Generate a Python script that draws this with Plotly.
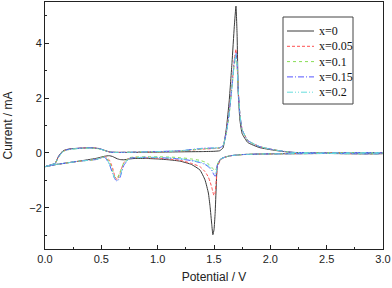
import plotly.graph_objects as go

# Potential grids (V): anodic (upper) branch and cathodic (lower) branch
V_up = [0.00, 0.05, 0.09, 0.12, 0.16, 0.22, 0.30, 0.40, 0.48, 0.53, 0.58, 0.65, 0.80, 1.00, 1.20, 1.40,
        1.50, 1.55, 1.58, 1.61, 1.635, 1.66, 1.68, 1.695, 1.705, 1.715, 1.73, 1.75, 1.80, 1.90, 2.00,
        2.10, 2.20, 2.50, 3.00]
V_dn = [3.00, 2.50, 2.10, 1.90, 1.75, 1.65, 1.60, 1.56, 1.53, 1.52, 1.51, 1.50, 1.49, 1.48, 1.465,
        1.45, 1.42, 1.375, 1.30, 1.20, 1.10, 1.00, 0.90, 0.80, 0.75, 0.70, 0.665, 0.64, 0.62, 0.60,
        0.57, 0.53, 0.45, 0.30, 0.20, 0.10, 0.00]

# Currents (mA)
I_up_x0 = [-0.50, -0.44, -0.38, -0.12, 0.08, 0.15, 0.17, 0.19, 0.16, 0.09, 0.03, 0.02, 0.02, 0.03, 0.04, 0.05,
           0.06, 0.08, 0.18, 0.90, 1.90, 3.30, 4.60, 5.35, 4.30, 2.20, 1.20, 0.70, 0.38, 0.20, 0.12,
           0.06, 0.02, 0.00, 0.00]
I_up_x005 = [-0.50, -0.44, -0.38, -0.14, 0.06, 0.14, 0.17, 0.19, 0.16, 0.09, 0.03, 0.02, 0.03, 0.04, 0.07, 0.14,
             0.16, 0.18, 0.26, 0.80, 1.50, 2.50, 3.40, 3.78, 3.30, 2.30, 1.40, 0.85, 0.45, 0.24, 0.14,
             0.07, 0.02, 0.00, 0.00]
I_up_x01 = [-0.50, -0.44, -0.38, -0.16, 0.05, 0.13, 0.16, 0.18, 0.15, 0.09, 0.03, 0.02, 0.03, 0.04, 0.07, 0.15,
            0.17, 0.19, 0.26, 0.70, 1.40, 2.40, 3.20, 3.50, 3.20, 2.30, 1.40, 0.85, 0.45, 0.24, 0.14,
            0.07, 0.02, 0.00, 0.00]
I_up_x015 = [-0.50, -0.44, -0.38, -0.14, 0.06, 0.14, 0.17, 0.19, 0.16, 0.09, 0.03, 0.02, 0.03, 0.05, 0.08, 0.17,
             0.18, 0.19, 0.26, 0.75, 1.45, 2.45, 3.30, 3.65, 3.25, 2.30, 1.40, 0.85, 0.45, 0.24, 0.14,
             0.07, 0.02, 0.00, 0.00]
I_up_x02 = [-0.50, -0.44, -0.38, -0.15, 0.05, 0.13, 0.16, 0.18, 0.15, 0.09, 0.03, 0.02, 0.03, 0.05, 0.08, 0.16,
            0.18, 0.19, 0.26, 0.72, 1.42, 2.40, 3.25, 3.60, 3.25, 2.30, 1.40, 0.85, 0.45, 0.24, 0.14,
            0.07, 0.02, 0.00, 0.00]

I_dn_x0 = [-0.02, -0.02, -0.03, -0.04, -0.06, -0.10, -0.15, -0.22, -0.45, -1.20, -2.20, -2.80, -2.98, -2.60, -1.95,
           -1.46, -0.98, -0.62, -0.42, -0.30, -0.25, -0.22, -0.20, -0.20, -0.22, -0.25, -0.24, -0.21, -0.17, -0.13,
           -0.10, -0.12, -0.20, -0.30, -0.36, -0.42, -0.50]
I_dn_x005 = [-0.02, -0.02, -0.03, -0.04, -0.06, -0.10, -0.15, -0.25, -0.50, -1.00, -1.45, -1.55, -1.42, -1.25, -1.05,
             -0.88, -0.68, -0.50, -0.38, -0.27, -0.22, -0.19, -0.17, -0.16, -0.18, -0.35, -0.75, -0.98, -0.85, -0.55,
             -0.25, -0.13, -0.24, -0.30, -0.36, -0.42, -0.50]
I_dn_x01 = [-0.02, -0.02, -0.03, -0.04, -0.06, -0.10, -0.15, -0.22, -0.40, -0.58, -0.65, -0.62, -0.57, -0.52, -0.46,
            -0.40, -0.33, -0.27, -0.22, -0.17, -0.15, -0.14, -0.14, -0.15, -0.17, -0.35, -0.70, -0.92, -0.88, -0.65,
            -0.32, -0.14, -0.24, -0.30, -0.36, -0.42, -0.50]
I_dn_x015 = [-0.02, -0.02, -0.03, -0.04, -0.06, -0.10, -0.15, -0.22, -0.45, -0.75, -0.85, -0.80, -0.72, -0.65, -0.57,
             -0.50, -0.42, -0.35, -0.28, -0.22, -0.19, -0.17, -0.16, -0.17, -0.20, -0.45, -0.90, -1.03, -0.95, -0.75,
             -0.40, -0.16, -0.24, -0.30, -0.36, -0.42, -0.50]
I_dn_x02 = [-0.02, -0.02, -0.03, -0.04, -0.06, -0.10, -0.15, -0.22, -0.43, -0.70, -0.78, -0.74, -0.67, -0.60, -0.53,
            -0.47, -0.40, -0.33, -0.27, -0.21, -0.18, -0.16, -0.16, -0.17, -0.19, -0.42, -0.85, -1.00, -0.93, -0.72,
            -0.38, -0.15, -0.24, -0.30, -0.36, -0.42, -0.50]

labels = ["x=0", "x=0.05", "x=0.1", "x=0.15", "x=0.2"]
up_sets = [I_up_x0, I_up_x005, I_up_x01, I_up_x015, I_up_x02]
dn_sets = [I_dn_x0, I_dn_x005, I_dn_x01, I_dn_x015, I_dn_x02]
colors = ["#3a3a3a", "#ff5050", "#88dd55", "#5555ff", "#66dddd"]
dashes = ["solid", "3px,2px", "dot", "6px,2px,1px,2px", "6px,2px,1px,2px,1px,2px"]

# Layout geometry (pixels)
W, H = 392, 288
ML, MR, MT, MB = 45, 9, 2, 39
PW, PH = W - ML - MR, H - MT - MB


def px_x(px):
    return (px - ML) / PW


def px_y(py):
    return (H - MB - py) / PH


fig = go.Figure()
for lab, iu, idn, c, d in zip(labels, up_sets, dn_sets, colors, dashes):
    fig.add_trace(go.Scatter(
        x=V_up + V_dn, y=iu + idn, mode="lines", name=lab, showlegend=False,
        line=dict(color=c, width=1, dash=d, shape="spline", smoothing=0.4),
    ))

# Manual legend (box, line samples and labels)
shapes = [dict(type="rect", xref="paper", yref="paper",
               x0=px_x(283), x1=px_x(353), y0=px_y(104), y1=px_y(17),
               line=dict(color="#444", width=1), fillcolor="white", layer="above")]
annotations = []
for i, (lab, c, d) in enumerate(zip(labels, colors, dashes)):
    yc = 31 + i * 15.3
    shapes.append(dict(type="line", xref="paper", yref="paper",
                       x0=px_x(287), x1=px_x(314), y0=px_y(yc), y1=px_y(yc),
                       line=dict(color=c, width=1, dash=d), layer="above"))
    annotations.append(dict(xref="paper", yref="paper", x=px_x(317), y=px_y(yc),
                            xanchor="left", yanchor="middle", showarrow=False, text=lab,
                            font=dict(family="Liberation Serif, Times New Roman, serif", size=12, color="#111")))

axis_font = dict(family="Liberation Sans, Arial, sans-serif", size=11, color="#222")
title_font = dict(family="Liberation Sans, Arial, sans-serif", size=12, color="#222")
fig.update_layout(
    width=W, height=H,
    margin=dict(l=ML, r=MR, t=MT, b=MB),
    plot_bgcolor="white", paper_bgcolor="white",
    showlegend=False,
    shapes=shapes, annotations=annotations,
    xaxis=dict(
        range=[0, 3.0], dtick=0.5, tick0=0, tickformat=".1f",
        showgrid=False, zeroline=False, showline=True, mirror=True,
        linecolor="#222", linewidth=1, automargin=False,
        ticks="inside", ticklen=4, tickcolor="#222",
        minor=dict(ticks="inside", ticklen=2, dtick=0.25, tickcolor="#222"),
        tickfont=axis_font,
        title=dict(text="Potential / V", font=title_font, standoff=8),
    ),
    yaxis=dict(
        range=[-3.5, 5.5], dtick=2, tick0=0,
        showgrid=False, zeroline=False, showline=True, mirror=True,
        linecolor="#222", linewidth=1, automargin=False,
        ticks="inside", ticklen=4, tickcolor="#222",
        minor=dict(ticks="inside", ticklen=2, dtick=1, tickcolor="#222"),
        tickfont=axis_font,
        title=dict(text="Current / mA", font=title_font, standoff=14),
    ),
)

fig.write_html("out.html", config={"displayModeBar": False},
               post_script="document.body.style.margin='0';")
